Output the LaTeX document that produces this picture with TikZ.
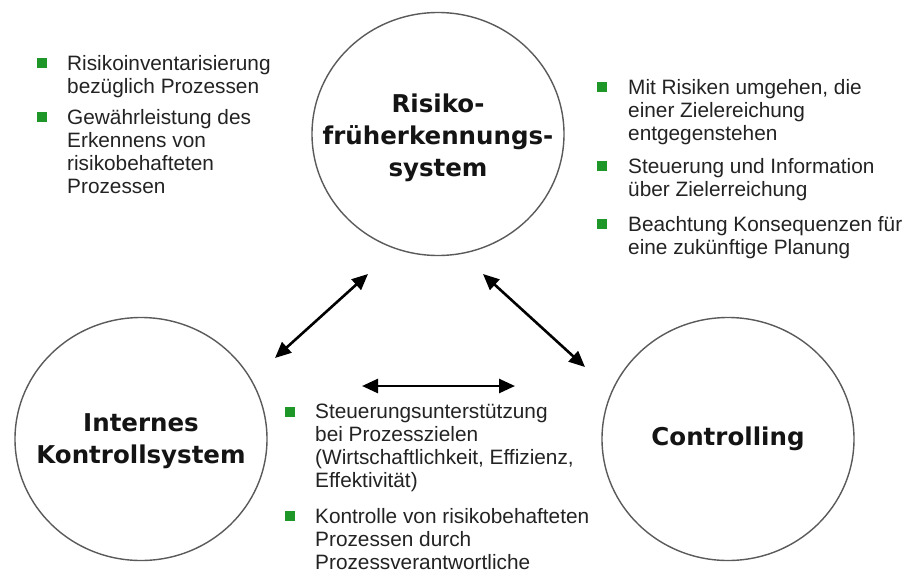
\documentclass[tikz,border=0pt]{standalone}
\usepackage{fontspec}
\setmainfont{Liberation Sans}
\newfontfamily\titlefont{DejaVu Sans}
\usetikzlibrary{arrows.meta,shapes.geometric}
\definecolor{bulletgreen}{RGB}{30,150,40}
\definecolor{txt}{RGB}{35,35,35}
\definecolor{ring}{RGB}{90,90,90}
\begin{document}
\begin{tikzpicture}[x=1pt,y=-1pt,
  circ/.style={draw=ring, line width=1.4pt, ellipse, minimum width=252pt, minimum height=243pt, inner sep=0pt},
  title/.style={align=center, inner sep=0pt, text=black!92, font=\titlefont\bfseries\fontsize{24.5}{32}\selectfont},
  bul/.style={fill=bulletgreen, rectangle, minimum size=10pt, inner sep=0pt, outer sep=0pt},
  itemtext/.style={anchor=north west, align=left, inner sep=0pt, text=txt, font=\fontsize{20.8}{23}\selectfont},
  dbl/.style={{Triangle[length=16pt,width=14pt]}-{Triangle[length=16pt,width=14pt]}, line width=2.6pt, black}
]
\useasboundingbox (0,0) rectangle (910,582);
\fill[white] (0,0) rectangle (910,582);

% circles
\node[circ] (rfs) at (438,134) {};
\node[circ] (iks) at (141,439) {};
\node[circ] (ctr) at (728,439) {};
\node[title] (rfst) at ([yshift=-4pt]rfs.center) {Risiko-\\früherkennungs-\\system};
\node[title] (ikst) at ([yshift=-2pt]iks.center) {Internes\\Kontrollsystem};
\node[title] (ctrt) at (ctr.center) {Controlling};

% arrows
\coordinate (a1s) at (275,358);
\coordinate (a1e) at (368,274);
\coordinate (a2s) at (483,274);
\coordinate (a2e) at (585,367);
\coordinate (a3s) at (362,386);
\coordinate (a3e) at (515,386);
\draw[dbl] (a1s) -- (a1e);
\draw[dbl] (a2s) -- (a2e);
\draw[dbl] (a3s) -- (a3e);

% left bullets
\node[bul] (lb1) at (42,63) {};
\node[itemtext] (lt1) at (67,55) {Risikoinventarisierung\\bezüglich Prozessen};
\node[bul] (lb2) at (42,117) {};
\node[itemtext] (lt2) at (67,109) {Gewährleistung des\\Erkennens von\\risikobehafteten\\Prozessen};

% right bullets
\node[bul] (rb1) at (602,87) {};
\node[itemtext] (rt1) at (628,79) {Mit Risiken umgehen, die\\einer Zielereichung\\entgegenstehen};
\node[bul] (rb2) at (602,166) {};
\node[itemtext] (rt2) at (628,158) {Steuerung und Information\\über Zielerreichung};
\node[bul] (rb3) at (602,224) {};
\node[itemtext] (rt3) at (628,216) {Beachtung Konsequenzen für\\eine zukünftige Planung};

% bottom bullets
\node[bul] (bb1) at (290,412) {};
\node[itemtext] (bt1) at (315,404) {Steuerungsunterstützung\\bei Prozesszielen\\(Wirtschaftlichkeit, Effizienz,\\Effektivität)};
\node[bul] (bb2) at (290,516) {};
\node[itemtext] (bt2) at (315,508) {Kontrolle von risikobehafteten\\Prozessen durch\\Prozessverantwortliche};
\end{tikzpicture}
\end{document}
